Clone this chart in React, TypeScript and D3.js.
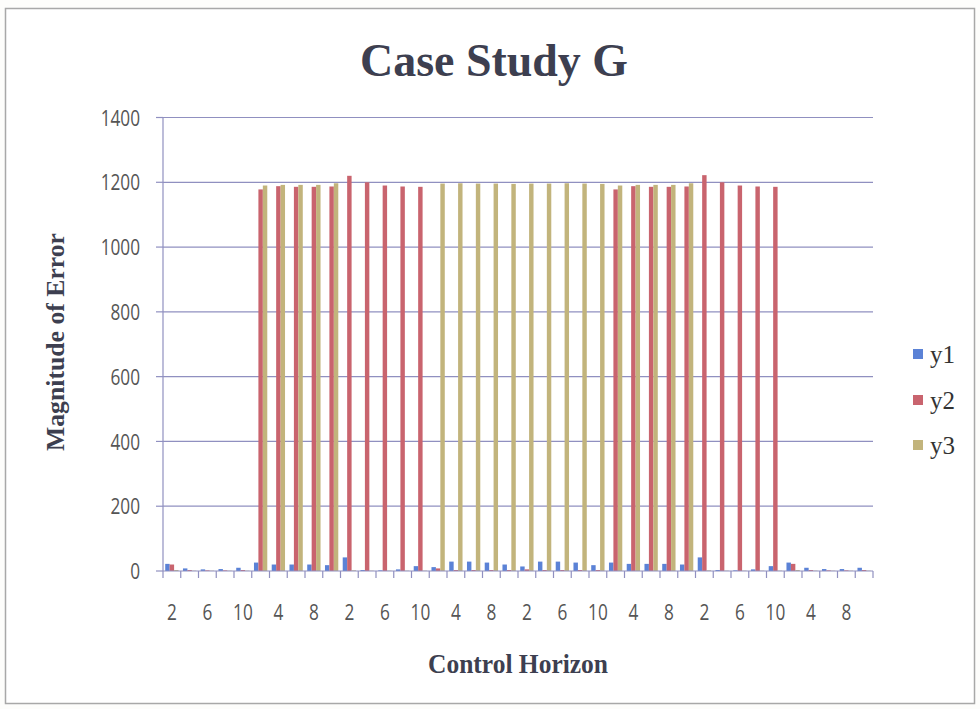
import React from "react";
import * as d3 from "d3";

const horizons = ["2", "4", "6", "8", "10"];
const groupCount = 8;
const categories: string[] = d3.range(groupCount).flatMap(() => horizons);

const seriesNames = ["y1", "y2", "y3"];
const colors = ["#5b82d6", "#c9646e", "#c2b47c"];

const y1 = [
  22, 8, 5, 6, 10,
  26, 20, 20, 20, 18,
  42, 3, 2, 5, 15,
  12, 29, 29, 26, 20,
  14, 29, 29, 26, 18,
  26, 22, 22, 22, 20,
  42, 3, 2, 5, 15,
  26, 10, 6, 6, 10,
];
const y2 = [
  20, 3, 2, 2, 3,
  1178, 1188, 1186, 1186, 1187,
  1220, 1200, 1190, 1187, 1186,
  8, 3, 3, 3, 3,
  5, 3, 3, 3, 3,
  1178, 1188, 1186, 1186, 1187,
  1222, 1200, 1190, 1187, 1186,
  22, 3, 2, 2, 3,
];
const y3 = [
  3, 1, 1, 1, 1,
  1190, 1192, 1192, 1192, 1197,
  2, 1, 1, 1, 1,
  1196, 1197, 1196, 1196, 1195,
  1196, 1196, 1197, 1196, 1195,
  1190, 1192, 1192, 1192, 1197,
  2, 1, 1, 1, 1,
  3, 1, 1, 1, 1,
];
const seriesValues = [y1, y2, y3];
const yTicks = [0, 200, 400, 600, 800, 1000, 1200, 1400];

const W = 980;
const H = 709;
const plot = { left: 163, right: 873, top: 117.5, bottom: 571 };

export default function App() {
  const idx = categories.map((_, i) => i);
  const x0 = d3.scaleBand<number>().domain(idx).range([plot.left, plot.right]).padding(0);
  const x1 = d3
    .scaleBand<string>()
    .domain(seriesNames)
    .range([0, x0.bandwidth()])
    .paddingInner(0)
    .paddingOuter(0.5);
  const y = d3.scaleLinear().domain([0, 1400]).range([plot.bottom, plot.top]);

  const gridColor = "#9090c0";
  const serif = "'Liberation Serif', 'Times New Roman', serif";
  const sans = "'Open Sans', 'Liberation Sans', sans-serif";
  const titleColor = "#3d3f50";
  const condense = 0.82;

  const boundaries = d3.range(categories.length + 1).map((i) =>
    i === categories.length ? plot.right : (x0(i) as number)
  );

  return (
    <svg
      width={W}
      height={H}
      style={{ position: "absolute", left: 0, top: 0, background: "#fff" }}
    >
      <rect x={0} y={0} width={W} height={H} fill="#fdfdfb" />
      <rect x={5.5} y={8.5} width={969} height={695} fill="#fff" stroke="#a8a8a8" strokeWidth={1.5} />

      <text
        x={494}
        y={76}
        textAnchor="middle"
        fontFamily={serif}
        fontWeight="bold"
        fontSize={47}
        fill={titleColor}
        textLength={268}
        lengthAdjust="spacingAndGlyphs"
      >
        Case Study G
      </text>

      {/* gridlines + y ticks */}
      {yTicks.map((t) => (
        <g key={t}>
          {t > 0 && (
            <line x1={plot.left} x2={plot.right} y1={y(t)} y2={y(t)} stroke={gridColor} strokeWidth={1.2} />
          )}
          <line x1={156} x2={plot.left} y1={y(t)} y2={y(t)} stroke={gridColor} strokeWidth={1.2} />
          <g transform={`translate(140, ${y(t)}) scale(${condense}, 1)`}>
            <text
              x={0}
              y={0}
              textAnchor="end"
              dominantBaseline="central"
              fontFamily={sans}
              fontSize={21}
              fill="#555"
            >
              {t}
            </text>
          </g>
        </g>
      ))}

      {/* bars */}
      {seriesValues.map((vals, s) => (
        <g key={seriesNames[s]} fill={colors[s]}>
          {vals.map((v, i) => (
            <rect
              key={i}
              x={(x0(i) as number) + (x1(seriesNames[s]) as number)}
              y={y(v)}
              width={x1.bandwidth()}
              height={plot.bottom - y(v)}
            />
          ))}
        </g>
      ))}

      {/* axes */}
      <line x1={plot.left} x2={plot.left} y1={plot.top} y2={plot.bottom} stroke={gridColor} strokeWidth={1.2} />
      <line x1={plot.left} x2={plot.right} y1={plot.bottom} y2={plot.bottom} stroke={gridColor} strokeWidth={1.2} />
      {boundaries.map((bx, i) => (
        <line key={i} x1={bx} x2={bx} y1={plot.bottom} y2={plot.bottom + 7} stroke={gridColor} strokeWidth={1.2} />
      ))}

      {categories.map((c, i) =>
        i % 2 === 0 ? (
          <g
            key={i}
            transform={`translate(${(x0(i) as number) + x0.bandwidth() / 2}, 611.5) scale(${condense}, 1)`}
          >
            <text
              x={0}
              y={0}
              textAnchor="middle"
              dominantBaseline="central"
              fontFamily={sans}
              fontSize={21}
              fill="#555"
            >
              {c}
            </text>
          </g>
        ) : null
      )}

      <text
        x={518}
        y={673}
        textAnchor="middle"
        fontFamily={serif}
        fontWeight="bold"
        fontSize={27}
        fill={titleColor}
        textLength={180}
        lengthAdjust="spacingAndGlyphs"
      >
        Control Horizon
      </text>

      <text
        transform={`translate(64, 342) rotate(-90)`}
        textAnchor="middle"
        fontFamily={serif}
        fontWeight="bold"
        fontSize={25}
        fill={titleColor}
        textLength={218}
        lengthAdjust="spacingAndGlyphs"
      >
        Magnitude of Error
      </text>

      {/* legend */}
      {seriesNames.map((n, s) => {
        const cy = [354, 400, 445][s];
        return (
          <g key={n}>
            <rect x={913} y={cy - 5} width={10} height={10} fill={colors[s]} />
            <text
              x={930}
              y={cy}
              dominantBaseline="central"
              fontFamily={serif}
              fontSize={25}
              fill="#333"
            >
              {n}
            </text>
          </g>
        );
      })}
    </svg>
  );
}
